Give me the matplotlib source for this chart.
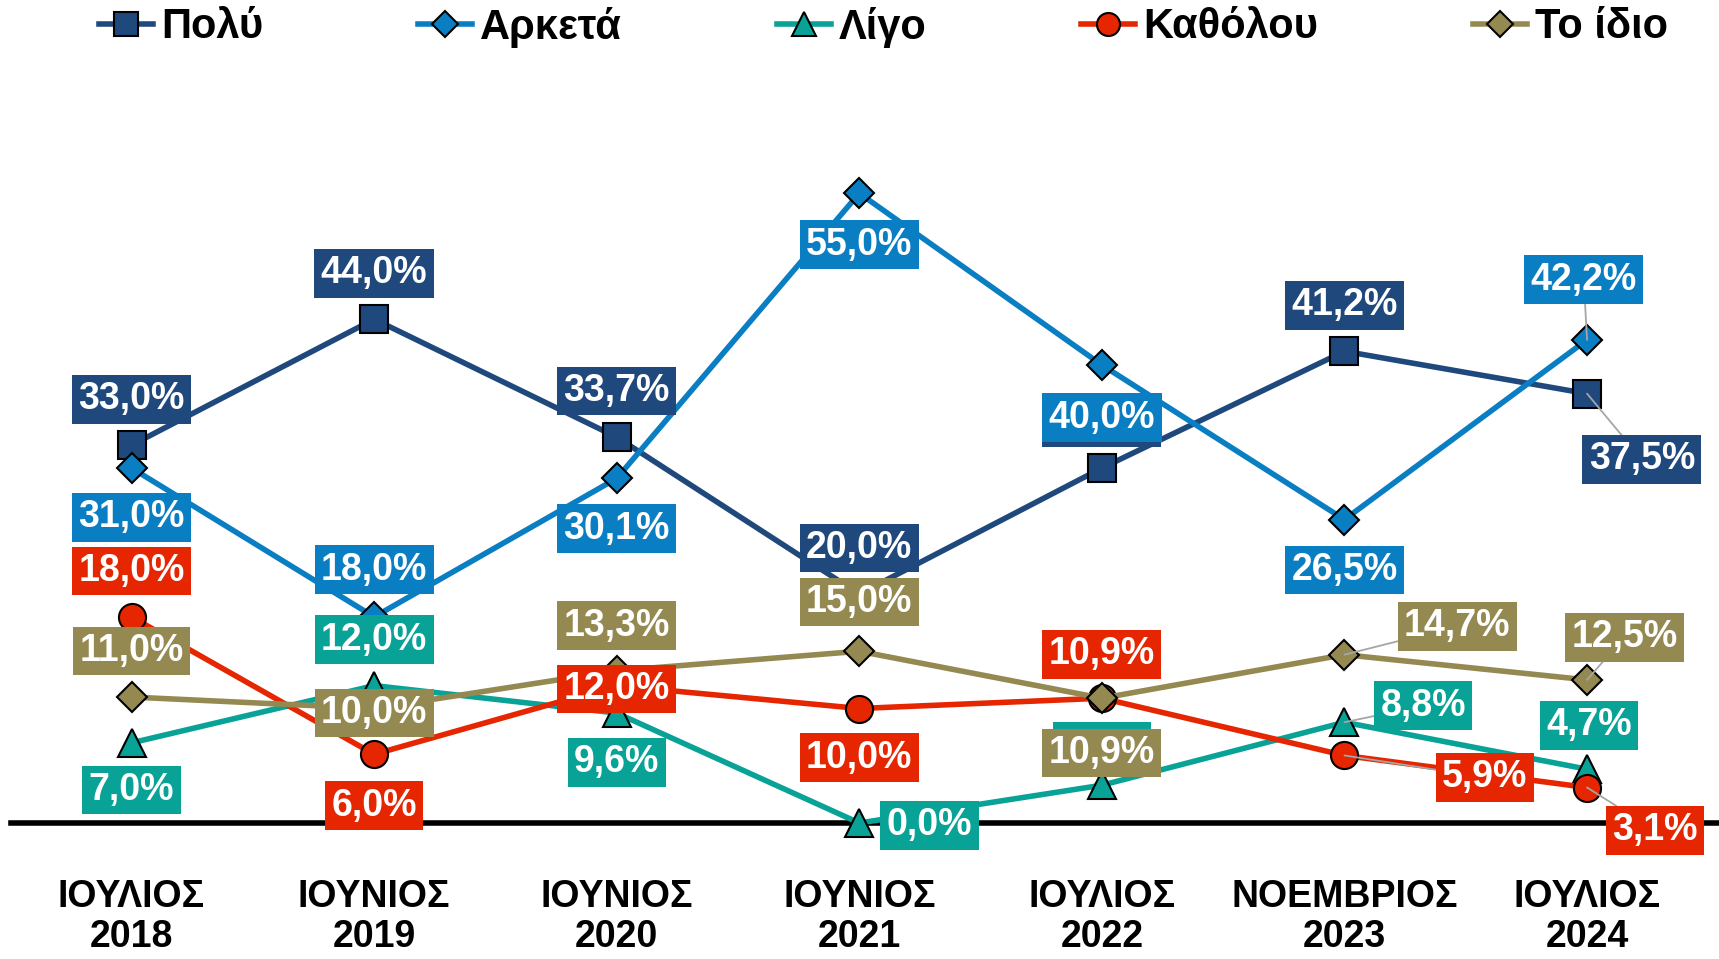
import matplotlib
matplotlib.use("Agg")
import matplotlib.pyplot as plt

plt.rcParams['font.family'] = ['Liberation Sans', 'DejaVu Sans']
plt.rcParams['font.weight'] = 'bold'

categories = ["ΙΟΥΛΙΟΣ\n2018", "ΙΟΥΝΙΟΣ\n2019", "ΙΟΥΝΙΟΣ\n2020", "ΙΟΥΝΙΟΣ\n2021",
              "ΙΟΥΛΙΟΣ\n2022", "ΝΟΕΜΒΡΙΟΣ\n2023", "ΙΟΥΛΙΟΣ\n2024"]
series_names = ["Πολύ", "Αρκετά", "Λίγο", "Καθόλου", "Το ίδιο"]
polu = [33.0, 44.0, 33.7, 20.0, 31.0, 41.2, 37.5]
arketa = [31.0, 18.0, 30.1, 55.0, 40.0, 26.5, 42.2]
ligo = [7.0, 12.0, 9.6, 0.0, 3.3, 8.8, 4.7]
katholou = [18.0, 6.0, 12.0, 10.0, 10.9, 5.9, 3.1]
to_idio = [11.0, 10.0, 13.3, 15.0, 10.9, 14.7, 12.5]
values = [polu, arketa, ligo, katholou, to_idio]

colors = ["#1F487C", "#0A7EC2", "#09A296", "#E52600", "#958952"]
markers = ["s", "D", "^", "o", "D"]
msizes = [20, 15.5, 20, 19.5, 15.5]

# label offsets (reference pixels, x right, y down) and whether a leader line is drawn
offsets = [
    [(0, -42), (0, -42), (0, -42), (0, -42), (0, -41), (0, -42), (50, 60)],
    [(0, 45), (0, -43), (0, 46), (0, 47), (0, 48), (0, 46), (-3, -55)],
    [(0, 43), (0, -42), (0, 45), (64, 2), (0, -35), (72, -15), (2, -40)],
    [(0, -42), (0, 47), (0, 3), (0, 45), (0, -40), (128, 20), (62, 39)],
    [(0, -42), (0, 4), (0, -41), (0, -45), (0, 50), (103, -26), (34, -39)],
]
leaders = [
    [False] * 6 + [True],
    [False] * 6 + [True],
    [False] * 5 + [True, False],
    [False] * 5 + [True, True],
    [False] * 5 + [True, True],
]

fig = plt.figure(figsize=(17.19, 9.59), dpi=100)
ax = fig.add_axes([11 / 1719, (959 - 823) / 959, 1 - 11 / 1719, 65 * 11.45 / 959])
x = list(range(len(categories)))

handles = []
for i, (name, vals) in enumerate(zip(series_names, values)):
    h, = ax.plot(x, vals, color=colors[i], lw=4, marker=markers[i], ms=msizes[i],
                 markerfacecolor=colors[i], markeredgecolor="black", markeredgewidth=1.5,
                 label=name, zorder=3 + i * 0.1, clip_on=False)
    handles.append(h)

sc = 0.789
lbl_z = 10
for i, vals in enumerate(values):
    for j, v in enumerate(vals):
        dx, dy = offsets[i][j]
        txt = f"{v:.1f}".replace(".", ",") + "%"
        arrow = dict(arrowstyle="-", color="#A6A6A6", lw=1.3, shrinkA=0, shrinkB=0) if leaders[i][j] else None
        ax.annotate(txt, xy=(j, v), xytext=(dx * sc, -dy * sc), textcoords="offset points",
                    ha="center", va="center", fontsize=27, color="white", fontweight="bold",
                    bbox=dict(boxstyle="square,pad=0.17", fc=colors[i], ec="none"),
                    arrowprops=arrow, zorder=lbl_z + i, annotation_clip=False)

ax.axhline(0, color="black", lw=4, zorder=2, clip_on=False)
ax.set_xlim(-0.497, 6.544)
ax.set_ylim(0, 65)
for s in ax.spines.values():
    s.set_visible(False)
ax.set_yticks([])
ax.set_xticks(x)
ax.set_xticklabels(categories, fontsize=27, fontweight="bold", linespacing=1.15)
ax.tick_params(axis="x", length=0, pad=40)

fig.legend(handles=handles, labels=series_names, loc="center",
           bbox_to_anchor=(0.514, 1 - 27 / 959), ncol=5, frameon=False,
           prop=dict(size=30, weight="bold"), handlelength=1.3, handletextpad=0.2,
           columnspacing=3.7, markerscale=0.85)

fig.savefig("out.png", dpi=100)
